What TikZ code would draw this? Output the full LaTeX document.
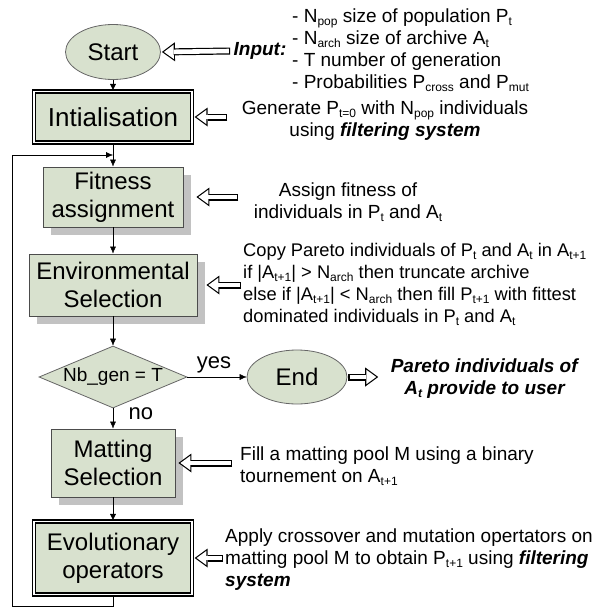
\documentclass[tikz,border=0pt]{standalone}
\usepackage{fontspec}
\setmainfont{Liberation Sans}
\usetikzlibrary{shapes.geometric, arrows.meta, positioning, shadows}
\definecolor{sage}{RGB}{216,225,206}
\tikzstyle{every node}=[font=\fontsize{19}{22}\selectfont]
\tikzstyle{block}=[draw=black!70,fill=sage,rectangle,line width=0.9pt,align=center,inner sep=2pt,font=\fontsize{24}{28}\selectfont]
\tikzstyle{sblock}=[block,drop shadow={shadow xshift=8pt,shadow yshift=-8pt,fill=black!24,opacity=1}]
\tikzstyle{dblock}=[block,draw=black,line width=1.3pt,double=white,double distance=1.6pt]
\tikzstyle{term}=[draw=black!60,fill=sage,ellipse,line width=0.8pt,inner sep=0pt,font=\fontsize{24}{28}\selectfont]
\tikzstyle{decision}=[draw=black!60,fill=sage,diamond,aspect=2.3,line width=0.8pt,inner sep=0pt]
\tikzstyle{note}=[align=left,inner sep=2pt]
\tikzstyle{lbl}=[font=\fontsize{22}{26}\selectfont]
\tikzstyle{hollow}=[line width=7pt,-{Triangle[length=13pt,width=19pt,line width=0pt]},
    postaction={draw=white,line width=4.6pt,shorten <=1.2pt,shorten >=2pt,-{Triangle[length=9.8pt,width=14.3pt,line width=0pt]}}]
\newcommand{\sbs}[1]{\raisebox{-3pt}{\fontsize{12}{12}\selectfont #1}}
\newcommand{\bfit}[1]{\textbf{\textit{#1}}}

\begin{document}
\begin{tikzpicture}[x=1pt,y=-1pt,>={Latex[length=7pt,width=6pt]}]
    \useasboundingbox (0,0) rectangle (597,610);
    % main loop
    \node[term, minimum width=95pt, minimum height=55pt] (start) at (113,52) {Start};
    \node[dblock, below of=start, node distance=65pt, minimum width=158pt, minimum height=51pt, font=\fontsize{26}{30}\selectfont] (init) {Intialisation};
    \node[sblock, below of=init, node distance=80pt, minimum width=140pt, minimum height=60pt] (fit) {Fitness\\assignment};
    \node[sblock, below of=fit, node distance=88pt, minimum width=168pt, minimum height=62pt] (env) {Environmental\\Selection};
    \node[decision, below of=env, node distance=92pt, minimum width=148pt, minimum height=62pt] (check) {Nb\_gen = T};
    \node[sblock, below of=check, node distance=86pt, minimum width=124pt, minimum height=68pt] (mate) {Matting\\Selection};
    \node[dblock, below of=mate, node distance=95pt, minimum width=158pt, minimum height=73pt] (evol) {Evolutionary\\operators};
    \node[term, right of=check, node distance=184pt, minimum width=100pt, minimum height=54pt] (end) {End};
    % side notes
    \node (inlab) at (260,51) {\bfit{Input:}};
    \node[note, anchor=west] (inlist) at (290,50) {- N\sbs{pop} size of population P\sbs{t}\\- N\sbs{arch} size of archive A\sbs{t}\\- T number of generation\\- Probabilities P\sbs{cross} and P\sbs{mut}};
    \node[align=center] (gennote) at (385,121) {Generate P\sbs{t=0} with N\sbs{pop} individuals\\using \bfit{filtering system}};
    \node[align=center] (fitnote) at (348,202) {Assign fitness of\\individuals in P\sbs{t} and A\sbs{t}};
    \node[note, anchor=west, font=\fontsize{18.3}{22}\selectfont] (envnote) at (241,284) {Copy Pareto individuals of P\sbs{t} and A\sbs{t} in A\sbs{t+1}\\if |A\sbs{t+1}| > N\sbs{arch} then truncate archive\\else if |A\sbs{t+1}| < N\sbs{arch} then fill P\sbs{t+1} with fittest\\dominated individuals in P\sbs{t} and A\sbs{t}};
    \node[align=center] (endnote) at (485,379) {\bfit{Pareto individuals of}\\\bfit{A\sbs{t} provide to user}};
    \node[note, anchor=west] (matenote) at (238,466) {Fill a matting pool M using a binary\\tournement on A\sbs{t+1}};
    \node[note, anchor=west] (evolnote) at (223,560) {Apply crossover and mutation opertators on\\matting pool M to obtain P\sbs{t+1} using \bfit{filtering}\\\bfit{system}};
    \coordinate (back) at (12,155);
    \coordinate (join) at (113,155);
    \draw[->] (start) -- (init);
    \draw[->] (init) -- (fit);
    \draw[->] (fit) -- (env);
    \draw[->] (env) -- (check);
    \draw[->] (check) -- node[lbl, right, pos=0.25, xshift=12pt] {no} (mate);
    \draw[->] (check) -- node[lbl, above, pos=0.45] {yes} (end);
    \draw[->] (mate) -- (evol);
    \draw[->] (evol.south) -- ++(0,11) -| (back) -- (join);
    \draw[hollow] (inlab.west) -- ([xshift=1pt]start.east);
    \draw[hollow] ([xshift=-11pt]init.east -| gennote.west) -- ([xshift=2pt]init.east);
    \draw[hollow] ([xshift=-12pt]fit.east -| fitnote.west) -- ([xshift=13pt]fit.east);
    \draw[hollow] (env.east -| envnote.west) -- ([xshift=9pt]env.east);
    \draw[hollow] ([xshift=-6pt]mate.east -| matenote.west) -- ([xshift=3pt]mate.east);
    \draw[hollow] (evol.east -| evolnote.west) -- ([xshift=2pt]evol.east);
    \draw[hollow] ([xshift=1pt]end.east) -- ([xshift=-9pt]end.east -| endnote.west);
\end{tikzpicture}
\end{document}
